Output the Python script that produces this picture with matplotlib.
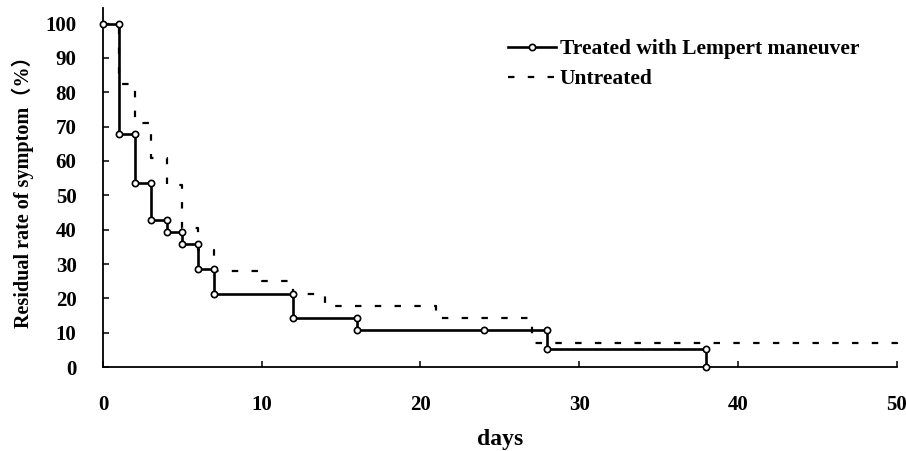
import numpy as np
import matplotlib
matplotlib.use("Agg")
import matplotlib.pyplot as plt
from matplotlib.lines import Line2D

# Kaplan-Meier style residual symptom rates
treated_days = [0, 1, 2, 3, 4, 5, 6, 7, 12, 16, 28, 38]
treated_rate = [100, 67.9, 53.6, 42.9, 39.3, 35.7, 28.6, 21.4, 14.3, 10.7, 5.4, 0]
treated_censor_days = [24]
treated_censor_rate = [10.7]

untreated_days = [0, 1, 2, 3, 4, 5, 6, 7, 10, 12, 14, 21, 27, 50]
untreated_rate = [100, 82.5, 71.0, 61.0, 53.0, 40.5, 34.2, 28.0, 25.0, 21.4, 17.9, 14.3, 7.1, 3.6]

x_ticks = [0, 10, 20, 30, 40, 50]
y_ticks = list(range(0, 101, 10))

plt.rcParams['font.family'] = ['Liberation Serif', 'Noto Sans CJK SC']
plt.rcParams['font.weight'] = 'bold'

fig = plt.figure(figsize=(9.06, 4.51), dpi=100)
ax = fig.add_axes([0.1137, 0.186, 0.876, 0.796])

# treated: solid step with open circles at each corner
ax.step(treated_days, treated_rate, where='post', color='black', lw=1.9, zorder=3)
mx, my = [treated_days[0]], [treated_rate[0]]
for i in range(1, len(treated_days)):
    mx += [treated_days[i], treated_days[i]]
    my += [treated_rate[i - 1], treated_rate[i]]
mx += treated_censor_days
my += treated_censor_rate
ax.plot(mx, my, ls='none', marker='o', ms=4.5, mfc='white', mec='black',
        mew=1.2, zorder=4, clip_on=False)

# untreated: dashed step
ax.step(untreated_days, untreated_rate, where='post', color='black', lw=1.6,
        dashes=(2.9, 6.0), zorder=2, clip_on=False)

# legend
h1 = Line2D([0, 1, 2], [0, 0, 0], color='black', lw=1.9, marker='o', ms=4.5,
            mfc='white', mec='black', mew=1.2, markevery=[1])
h2 = Line2D([], [], color='black', lw=1.6, dashes=(2.9, 6.0))
ax.legend([h1, h2], ['Treated with Lempert maneuver', 'Untreated'],
          loc='upper left', bbox_to_anchor=(0.561, 0.913),
          bbox_transform=fig.transFigure, frameon=False,
          prop={'family': 'Liberation Serif', 'weight': 'bold', 'size': 15.5},
          handlelength=2.2, handletextpad=0.2, labelspacing=0.45,
          borderpad=0, borderaxespad=0)

ax.set_xlim(0, 50)
ax.set_ylim(0, 104.5)
ax.set_xticks(x_ticks)
ax.set_yticks(y_ticks)
ax.tick_params(axis='both', direction='in', length=4, width=1.1,
               labelsize=15)
ax.tick_params(axis='x', pad=20)
ax.tick_params(axis='y', pad=19)
for s in ['top', 'right']:
    ax.spines[s].set_visible(False)
for s in ['left', 'bottom']:
    ax.spines[s].set_linewidth(1.3)

ax.set_xlabel('days', fontsize=17, fontweight='bold', labelpad=10)
ax.set_ylabel('Residual rate of symptom（%）', fontsize=14.5, fontweight='bold',
              labelpad=8)

fig.savefig('out.png', dpi=100)
